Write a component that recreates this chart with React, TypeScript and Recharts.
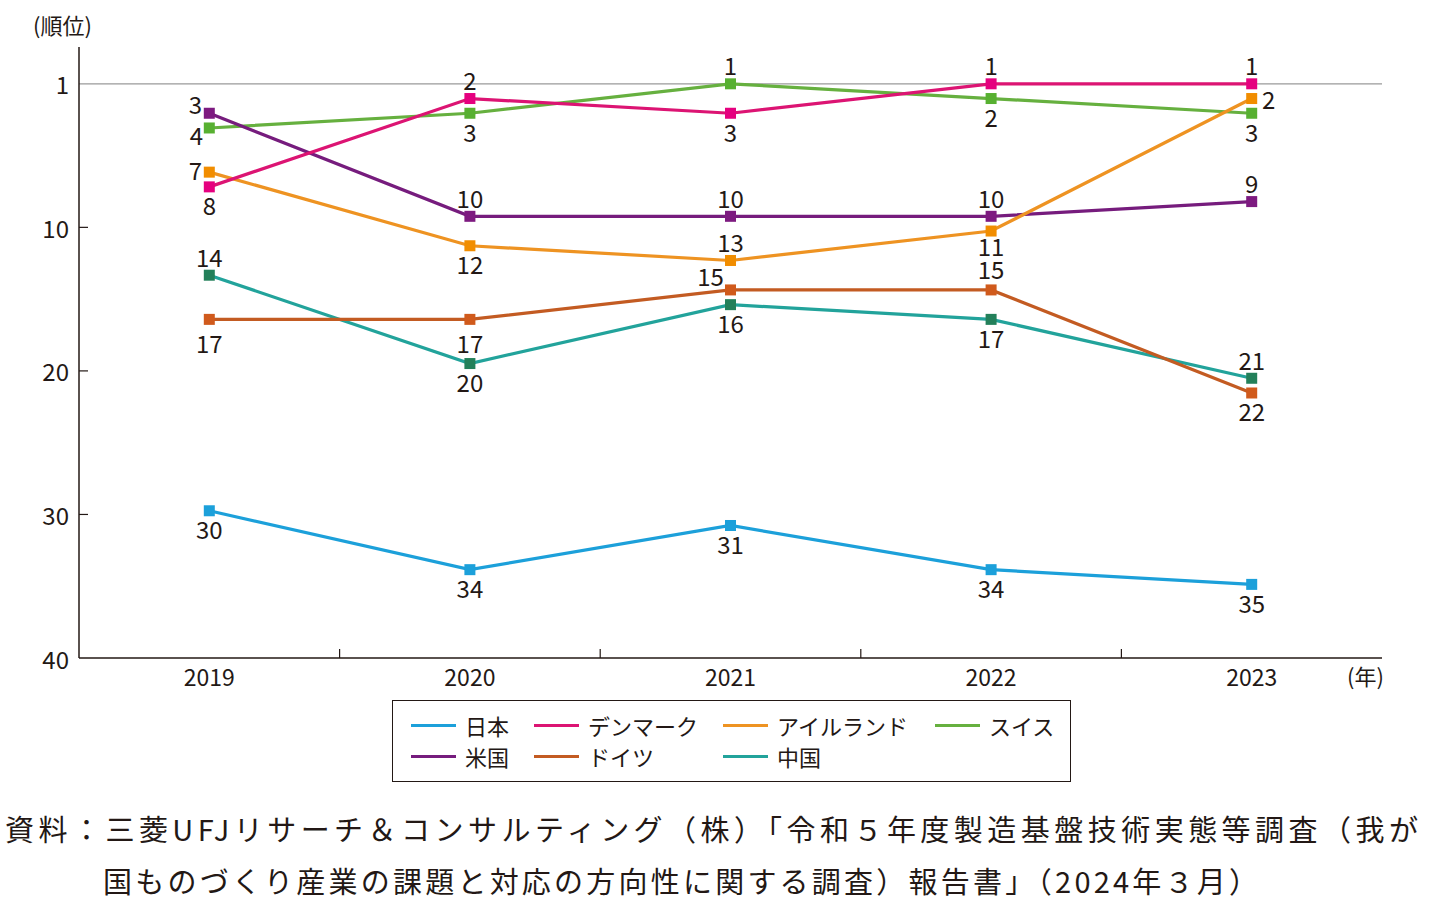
import React from 'react'
import {
  LineChart, Line, XAxis, YAxis, ReferenceLine, LabelList,
} from 'recharts'

// Ranking of manufacturing competitiveness by country, 2019-2023

const YEARS = ['2019', '2020', '2021', '2022', '2023']

const JAPAN = [30, 34, 31, 34, 35]
const DENMARK = [8, 2, 3, 1, 1]
const IRELAND = [7, 12, 13, 11, 2]
const SWITZERLAND = [4, 3, 1, 2, 3]
const USA = [3, 10, 10, 10, 9]
const GERMANY = [17, 17, 15, 15, 22]
const CHINA = [14, 20, 16, 17, 21]

const Y_TICK_LABELS = ['1', '10', '20', '30', '40']
const Y_TICK_STEPS = [0, 10, 20, 30, 40]

const FONT = "'Noto Sans CJK JP', 'Noto Sans', sans-serif"
const INK = '#231815'

const W = 1436
const H = 700
const PLOT_L = 79
const PLOT_R = 1382
const BAND = (PLOT_R - PLOT_L) / YEARS.length

// label offsets around a marker
const OFF: Record<string, [number, number]> = {
  a: [0, -19],
  a2: [0, -21],
  b: [0, 18],
  bs: [0, 14],
  b2: [0, 23],
  la: [-14, -10],
  lb: [-13, 7],
  l: [-14, -3],
  al: [-20, -14],
  r: [17, 0],
}

type Series = {
  key: string
  name: string
  color: string
  marker: string
  values: number[]
  pos: string[]
}

const SERIES: Series[] = [
  { key: 'jp', name: '日本', color: '#1ca0da', marker: '#1ca0da', values: JAPAN, pos: ['b', 'b', 'b', 'b', 'b'] },
  { key: 'dk', name: 'デンマーク', color: '#dc1473', marker: '#e5007f', values: DENMARK, pos: ['b', 'a', 'b', 'a', 'a'] },
  { key: 'ie', name: 'アイルランド', color: '#ee9322', marker: '#f18d00', values: IRELAND, pos: ['l', 'b', 'a', 'bs', 'r'] },
  { key: 'ch', name: 'スイス', color: '#66b03f', marker: '#57b031', values: SWITZERLAND, pos: ['lb', 'b', 'a', 'b', 'b'] },
  { key: 'us', name: '米国', color: '#761c7d', marker: '#7d1a80', values: USA, pos: ['la', 'a', 'a', 'a', 'a'] },
  { key: 'de', name: 'ドイツ', color: '#c35b22', marker: '#d05a1c', values: GERMANY, pos: ['b2', 'b2', 'al', 'a2', 'b'] },
  { key: 'cn', name: '中国', color: '#22a39b', marker: '#23805a', values: CHINA, pos: ['a', 'b', 'b', 'b', 'a'] },
]

// paint order: bottom to top
const DRAW_ORDER = ['jp', 'cn', 'de', 'ch', 'us', 'ie', 'dk']

const rows = YEARS.map((year, i) => {
  const r: Record<string, string | number> = { year }
  SERIES.forEach(s => { r[s.key] = s.values[i] })
  return r
})

// the printed axis puts "1" where 0 would be on a 0-40 scale
const yTicks = Y_TICK_STEPS.map(s => 1 + (s * 39) / 40)

const YTick = ({ x, y, index }: any) => (
  <g>
    {index > 0 && index < yTicks.length - 1 && (
      <line x1={PLOT_L} x2={PLOT_L + 9} y1={y} y2={y} stroke={INK} strokeWidth={1.2} />
    )}
    <text x={x} y={y} textAnchor="end" dominantBaseline="central" fontSize={24} fill={INK} fontFamily={FONT}>
      {Y_TICK_LABELS[index]}
    </text>
  </g>
)

const XTick = ({ x, y, index, payload }: any) => (
  <g>
    {index < YEARS.length - 1 && (
      <line x1={x + BAND / 2} x2={x + BAND / 2} y1={658} y2={649} stroke={INK} strokeWidth={1.2} />
    )}
    <text x={x} y={y + 18} textAnchor="middle" dominantBaseline="central" fontSize={23} fill={INK} fontFamily={FONT}>
      {payload.value}
    </text>
  </g>
)

const squareDot = (fill: string) => (p: any) => (
  <rect key={`d-${p.index}`} x={p.cx - 5.5} y={p.cy - 5.5} width={11} height={11} fill={fill} />
)

const rankLabel = (s: Series) => (p: any) => {
  const [dx, dy] = OFF[s.pos[p.index]] ?? OFF.a
  return (
    <text
      x={p.x + dx} y={p.y + dy} textAnchor="middle" dominantBaseline="central"
      fontSize={24} fill={INK} fontFamily={FONT}
    >
      {p.value}
    </text>
  )
}

const LEGEND_COLS = [18, 141, 330, 542]
const LEGEND_ROWS = [24, 55]

function ChartLegend() {
  return (
    <div style={{
      position: 'absolute', left: 392, top: 700, width: 679, height: 82,
      border: `1px solid ${INK}`, boxSizing: 'border-box', fontFamily: FONT,
    }}>
      {SERIES.map((s, i) => (
        <div key={s.key} style={{
          position: 'absolute', left: LEGEND_COLS[i % 4], top: LEGEND_ROWS[Math.floor(i / 4)] - 14,
          height: 28, display: 'flex', alignItems: 'center', whiteSpace: 'nowrap',
        }}>
          <span style={{ display: 'inline-block', width: 45, height: 3, background: s.color, marginRight: 9 }} />
          <span style={{ fontSize: 22, color: INK, lineHeight: '28px' }}>{s.name}</span>
        </div>
      ))}
    </div>
  )
}

export default function App() {
  const ordered = DRAW_ORDER.map(k => SERIES.find(s => s.key === k)!)
  const pad = { left: BAND / 2, right: BAND / 2 }
  return (
    <div style={{ position: 'absolute', left: 0, top: 0, width: W, height: 924, background: '#fff', fontFamily: FONT }}>
      <div style={{ position: 'absolute', left: 33, top: 9, fontSize: 22, color: INK, lineHeight: '30px' }}>(順位)</div>
      <div style={{ position: 'absolute', left: 1347, top: 660, fontSize: 22, color: INK, lineHeight: '30px' }}>(年)</div>

      <LineChart width={W} height={H} data={rows} margin={{ top: 47, right: 54, left: 0, bottom: 0 }}>
        <XAxis
          dataKey="year" height={42} interval={0} padding={pad}
          axisLine={{ stroke: INK, strokeWidth: 1.5 }} tickLine={false} tickSize={0} tickMargin={0}
          tick={<XTick />}
        />
        <XAxis xAxisId="top" dataKey="year" orientation="top" height={0} tick={false} tickLine={false}
          padding={pad} axisLine={{ stroke: INK, strokeWidth: 1.5 }} />
        <YAxis
          width={79} reversed domain={[-1.5, 40]} ticks={yTicks} interval={0}
          allowDataOverflow type="number"
          axisLine={{ stroke: INK, strokeWidth: 1.5 }} tickLine={false} tickSize={0} tickMargin={10}
          tick={<YTick />}
        />
        <YAxis yAxisId="right" orientation="right" width={0} reversed domain={[-1.5, 40]} type="number"
          tick={false} tickLine={false} axisLine={{ stroke: INK, strokeWidth: 1.5 }} />
        <ReferenceLine y={1} stroke="#9a9a9a" strokeWidth={1.2} />

        {ordered.map(s => (
          <Line
            key={s.key} dataKey={s.key} name={s.name} type="linear"
            stroke={s.color} strokeWidth={3.2} dot={squareDot(s.marker)} activeDot={false}
            isAnimationActive={false}
          >
            <LabelList dataKey={s.key} content={rankLabel(s)} />
          </Line>
        ))}
      </LineChart>

      <ChartLegend />

      <svg width={W} height={120} style={{ position: 'absolute', left: 0, top: 790 }}>
        <text x={5} y={38} fontSize={29} fill={INK} fontFamily={FONT} dominantBaseline="central"
          textLength={1413} lengthAdjust="spacing">
          資料：三菱UFJリサーチ＆コンサルティング（株）「令和５年度製造基盤技術実態等調査（我が
        </text>
        <text x={103} y={90} fontSize={29} fill={INK} fontFamily={FONT} dominantBaseline="central"
          textLength={1155} lengthAdjust="spacing">
          国ものづくり産業の課題と対応の方向性に関する調査）報告書」（2024年３月）
        </text>
      </svg>
    </div>
  )
}
